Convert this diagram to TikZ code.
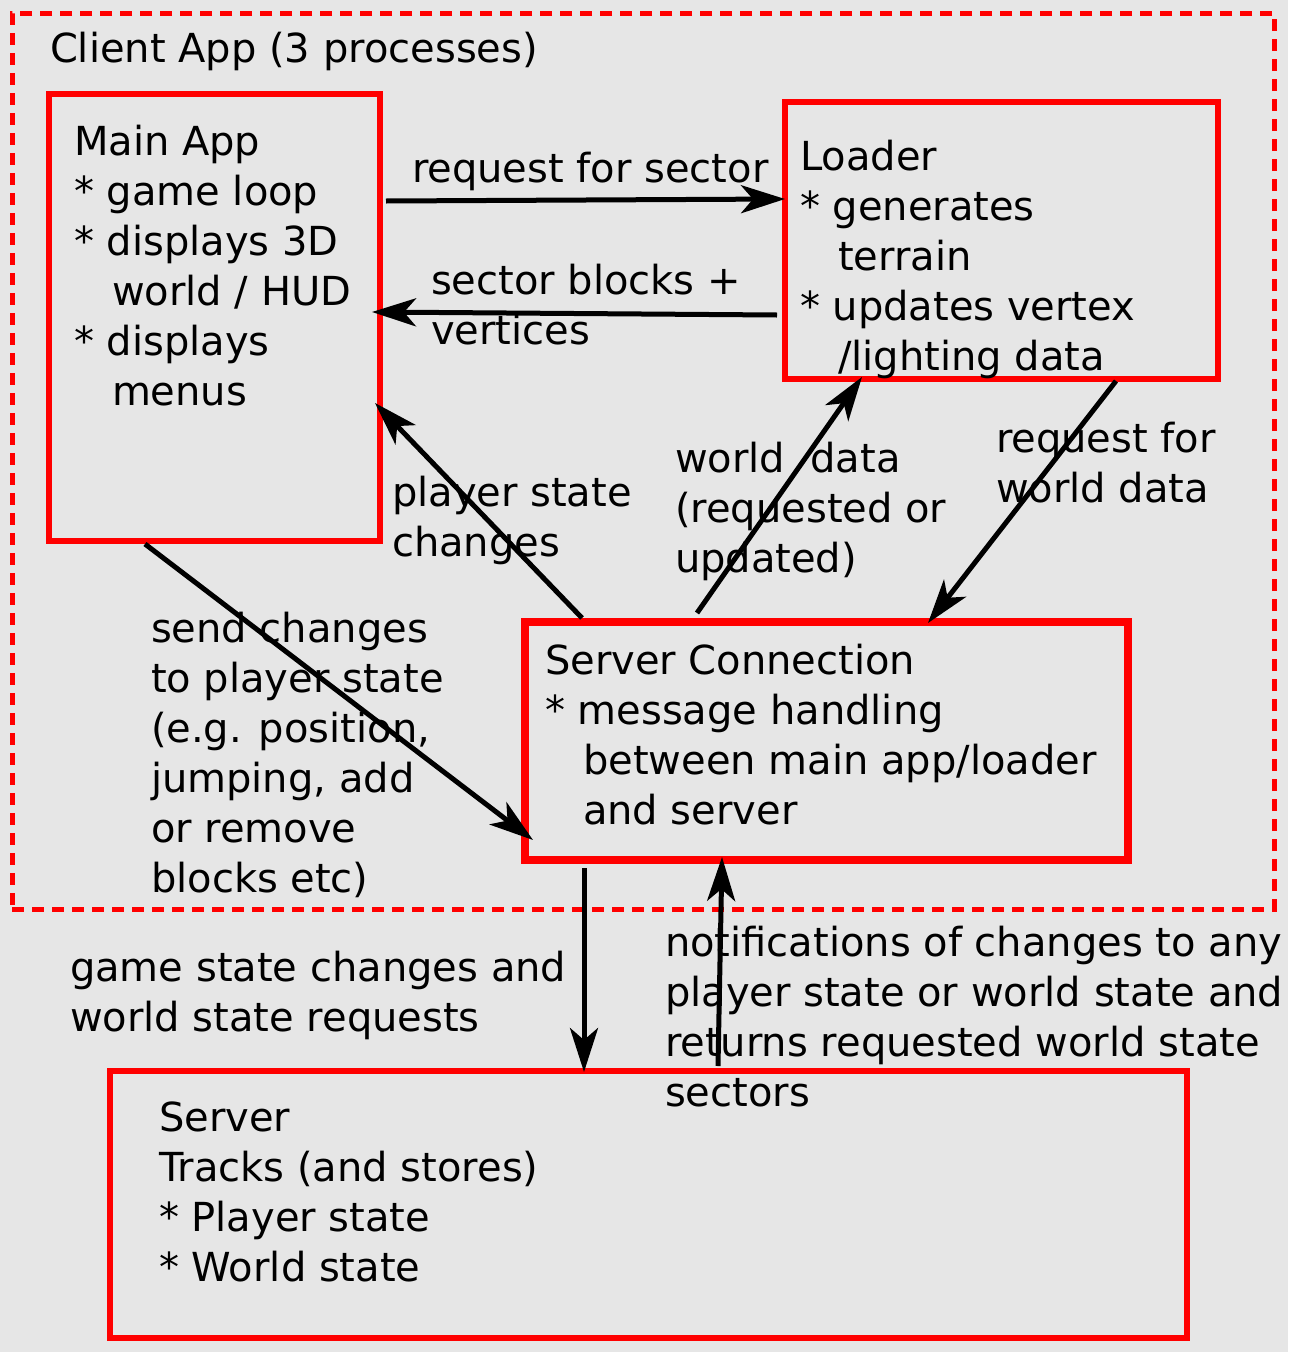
\documentclass[tikz,border=0pt]{standalone}
\usepackage{fontspec}
\setmainfont{DejaVu Sans}
\usetikzlibrary{arrows.meta,calc}
\definecolor{bg}{HTML}{E6E6E6}
\definecolor{boxred}{HTML}{FF0000}
\newcommand{\ml}[1]{\vtop{\halign{##\hfil\cr#1\crcr}}}
\newcommand{\ind}{\hspace*{38pt}}
\tikzset{
  box/.style={draw=boxred, line width=5.5pt, inset sep, minimum width=#1},
  inset sep/.style={inner sep=0pt, outer sep=0pt, anchor=north west},
  txt/.style={anchor=base west, inner sep=0pt, outer sep=0pt, font=\fontsize{40pt}{50pt}\selectfont},
  arr/.style={line width=5pt, -{Stealth[length=44pt,width=28pt,inset=12pt]}},
}
\begin{document}
\begin{tikzpicture}[x=1pt,y=-1pt]
\fill[bg] (0,0) rectangle (1288,1352);
\useasboundingbox (0,0) rectangle (1288,1352);
% client app dashed frame
\node[draw=boxred, line width=5pt, dash pattern=on 12pt off 8pt, inset sep, minimum width=1262pt, minimum height=896pt] (client) at (12,13) {};
\node[txt] (clientlbl) at (50,62) {Client App (3 processes)};
% boxes
\node[box=331pt, minimum height=447pt] (main) at (49,94) {};
\node[box=433pt, minimum height=277pt] (loader) at (785,102) {};
\node[box=603pt, minimum height=238pt, line width=8pt] (sconn) at (525,622) {};
\node[box=1077pt, minimum height=267pt] (server) at (110,1071) {};
% box texts
\node[txt] (maintext) at (74,155) {\ml{Main App\cr * game loop\cr * displays 3D\cr \ind world / HUD\cr * displays\cr \ind menus}};
\node[txt] (loadertext) at (800,170) {\ml{Loader\cr * generates\cr \ind terrain\cr * updates vertex\cr \ind /lighting data}};
\node[txt] (sconntext) at (545,674) {\ml{Server Connection\cr * message handling\cr \ind between main app/loader\cr \ind and server}};
\node[txt] (servertext) at (159,1131) {\ml{Server\cr Tracks (and stores)\cr * Player state\cr * World state}};
% edge labels
\node[txt] (l1) at (412,182) {request for sector};
\node[txt] (l2) at (431,294) {\ml{sector blocks +\cr vertices}};
\node[txt] (l3) at (392,506) {\ml{player state\cr changes}};
\node[txt] (l4) at (675,472) {\ml{world\ \ data\cr (requested or\cr updated)}};
\node[txt] (l5) at (996,452) {\ml{request for\cr world data}};
\node[txt] (l6) at (151,642) {\ml{send changes\cr to player state\cr (e.g. position,\cr jumping, add\cr or remove\cr blocks etc)}};
\node[txt] (l7) at (70,981) {\ml{game state changes and\cr world state requests}};
\node[txt] (l8) at (665,956) {\ml{notifications of changes to any\cr player state or world state and\cr returns requested world state\cr sectors}};
% connectors
\draw[arr] ($(main.east|-0,201)+(6,0)$) -- (loader.west|-0,199);
\draw[arr] ($(loader.west|-0,315)+(-8,0)$) -- ($(main.east|-0,312)+(-8,0)$);
\draw[arr] ($(sconn.north west)+(57,-4)$) -- ($(main.east|-0,403)+(-5,0)$);
\draw[arr] ($(main.south west)+(96,3)$) -- ($(sconn.south west)+(8,-20)$);
\draw[arr] ($(sconn.north west)+(172,-9)$) -- ($(loader.south west)+(77,-2)$);
\draw[arr] ($(loader.south west)+(331,2)$) -- ($(sconn.north west)+(403,1)$);
\draw[arr] ($(sconn.south west)+(59,8)$) -- ($(server.north west)+(474,1)$);
\draw[arr] ($(server.north west)+(608,-5)$) -- ($(sconn.south west)+(197,-3)$);
\end{tikzpicture}
\end{document}
